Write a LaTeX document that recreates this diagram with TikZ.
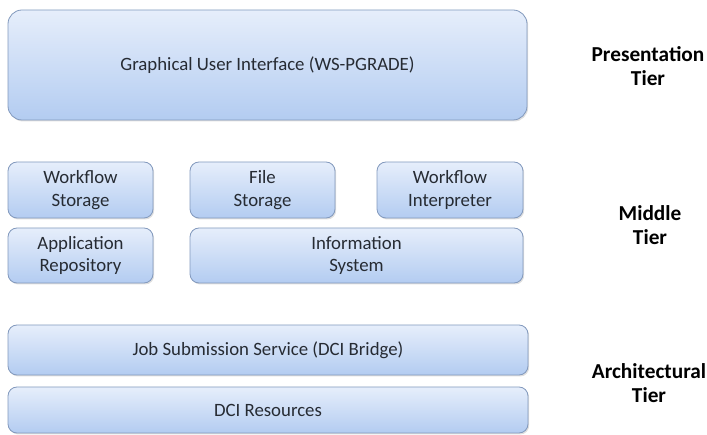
\documentclass[tikz,border=0pt]{standalone}
\usepackage{fontspec}
\setmainfont{Carlito}
\usetikzlibrary{shadows}
\definecolor{boxtop}{HTML}{E6EEFB}
\definecolor{boxbot}{HTML}{B3CCF1}
\definecolor{boxline}{HTML}{8299BD}
\definecolor{txt}{HTML}{262B33}
\begin{document}
\begin{tikzpicture}[x=1pt,y=-1pt,
  layer/.style={draw=boxline, line width=0.8pt, rounded corners=9pt,
    top color=boxtop, bottom color=boxbot,
    drop shadow={shadow xshift=1.2pt, shadow yshift=-1.5pt, opacity=0.25},
    font=\fontsize{18.8}{22.5}\selectfont, text=txt, align=center, inner sep=0pt},
  tierlabel/.style={font=\fontsize{21.3}{24.5}\selectfont\bfseries, text=black, align=center}]
\useasboundingbox (0,0) rectangle (707,435);
\node[layer, minimum width=519pt, minimum height=110pt, rounded corners=14pt] (gui) at (267.5,65) {Graphical User Interface (WS-PGRADE)};
\node[layer, minimum width=145pt, minimum height=56pt] (wfs) at (80.5,190) {Workflow\\Storage};
\node[layer, minimum width=145pt, minimum height=56pt] (fs) at (262.5,190) {File\\Storage};
\node[layer, minimum width=146pt, minimum height=56pt] (wfi) at (450,190) {Workflow\\Interpreter};
\node[layer, minimum width=145pt, minimum height=55pt] (ar) at (80.5,255.5) {Application\\Repository};
\node[layer, minimum width=333pt, minimum height=55pt] (is) at (356.5,255.5) {Information\\System};
\node[layer, minimum width=520pt, minimum height=50pt] (jss) at (268,350) {Job Submission Service (DCI Bridge)};
\node[layer, minimum width=520pt, minimum height=46pt] (dci) at (268,410) {DCI Resources};
\node[tierlabel] (pt) at (648,66) {Presentation\\Tier};
\node[tierlabel] (mt) at (650,225) {Middle\\Tier};
\node[tierlabel] (at) at (649,383) {Architectural\\Tier};
\end{tikzpicture}
\end{document}
